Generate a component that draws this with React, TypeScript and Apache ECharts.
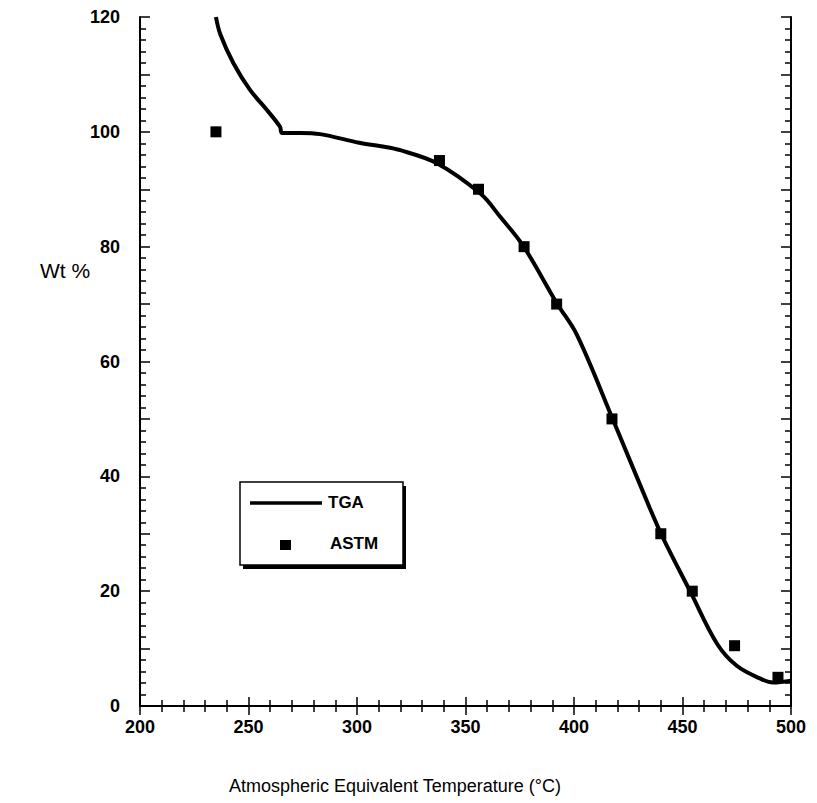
import React, { useEffect, useRef } from "react";
import * as echarts from "echarts";

const tgaTemp = [235, 237, 243, 250.7, 258.5, 264.5, 265.5, 274, 283, 301, 311, 320, 337, 357, 366, 376.5, 392, 401.4, 417.5, 435, 441, 453.5, 466, 475, 485.7, 491.7, 500];
const tgaWt = [120, 117, 112, 107.3, 103.8, 100.9, 99.8, 99.8, 99.6, 98.1, 97.5, 96.8, 94.5, 89.2, 85.2, 80.2, 70.2, 64.6, 50.3, 34.4, 29.3, 20, 10.8, 7.0, 4.8, 4.1, 4.4];

const astmTemp = [235, 338, 356, 377, 392, 417.5, 440, 454.5, 474, 494];
const astmWt = [100, 95, 90, 80, 70, 50, 30, 20, 10.5, 5];

const xTitle = "Atmospheric Equivalent Temperature (°C)";
const yTitle = "Wt %";

const FONT = "Liberation Sans";

export default function App() {
  const ref = useRef<HTMLDivElement>(null);
  useEffect(() => {
    document.body.style.margin = "0";
    const chart = echarts.init(ref.current!, null, { renderer: "svg" });
    const axisLine = { show: true, lineStyle: { color: "#000", width: 2 } };
    const xCommon = {
      type: "value",
      min: 200,
      max: 500,
      interval: 50,
      axisLine,
      axisTick: { show: true, inside: true, length: 9, lineStyle: { color: "#000", width: 1.5 } },
      minorTick: { show: true, splitNumber: 5, length: 6, lineStyle: { color: "#000", width: 1.5 } },
      splitLine: { show: false },
    };
    const yCommon = {
      type: "value",
      min: 0,
      max: 120,
      interval: 10,
      axisLine,
      axisTick: { show: true, inside: true, length: 10, lineStyle: { color: "#000", width: 1.5 } },
      minorTick: { show: true, splitNumber: 5, length: 6, lineStyle: { color: "#000", width: 1.5 } },
      splitLine: { show: false },
    };
    chart.setOption({
      animation: false,
      backgroundColor: "#fff",
      grid: { left: 140, right: 26, top: 17, bottom: 97 },
      xAxis: [
        {
          ...xCommon,
          position: "bottom",
          axisLabel: { show: true, margin: 12, color: "#000", fontFamily: FONT, fontWeight: "bold", fontSize: 18 },
        },
        { ...xCommon, position: "top", axisLabel: { show: false } },
      ],
      yAxis: [
        {
          ...yCommon,
          position: "left",
          axisLabel: {
            show: true,
            margin: 20,
            color: "#000",
            fontFamily: FONT,
            fontWeight: "bold",
            fontSize: 18,
            formatter: (v: number) => (v % 20 === 0 ? String(v) : ""),
          },
        },
        { ...yCommon, position: "right", axisLabel: { show: false } },
      ],
      series: [
        {
          type: "line",
          name: "TGA",
          xAxisIndex: 0,
          yAxisIndex: 0,
          data: tgaTemp.map((t, i) => [t, tgaWt[i]]),
          smooth: 0.35,
          showSymbol: false,
          lineStyle: { color: "#000", width: 4 },
          z: 2,
        },
        {
          type: "scatter",
          name: "ASTM",
          xAxisIndex: 0,
          yAxisIndex: 0,
          data: astmTemp.map((t, i) => [t, astmWt[i]]),
          symbol: "rect",
          symbolSize: 11,
          itemStyle: { color: "#000", opacity: 1 },
          z: 3,
        },
      ],
      graphic: [
        { type: "text", x: 40, y: 270, style: { text: yTitle, fontFamily: FONT, fontSize: 21, fill: "#000", verticalAlign: "middle" } },
        {
          type: "text",
          x: 395,
          y: 786,
          style: { text: xTitle, fontFamily: FONT, fontSize: 18, fill: "#000", align: "center", verticalAlign: "middle" },
        },
        { type: "rect", shape: { x: 243, y: 486, width: 163, height: 83 }, style: { fill: "#000" }, z: 10 },
        { type: "rect", shape: { x: 240, y: 482, width: 163, height: 83 }, style: { fill: "#fff", stroke: "#000", lineWidth: 1.5 }, z: 11 },
        { type: "line", shape: { x1: 250, y1: 503, x2: 322, y2: 503 }, style: { stroke: "#000", lineWidth: 3.5 }, z: 12 },
        { type: "text", x: 328, y: 502, style: { text: "TGA", fontFamily: FONT, fontWeight: "bold", fontSize: 17, fill: "#000", verticalAlign: "middle" }, z: 12 },
        { type: "rect", shape: { x: 280, y: 540, width: 11, height: 10 }, style: { fill: "#000" }, z: 12 },
        { type: "text", x: 330, y: 543, style: { text: "ASTM", fontFamily: FONT, fontWeight: "bold", fontSize: 17, fill: "#000", verticalAlign: "middle" }, z: 12 },
      ],
    });
    return () => chart.dispose();
  }, []);
  return <div ref={ref} style={{ width: 817, height: 803 }} />;
}
